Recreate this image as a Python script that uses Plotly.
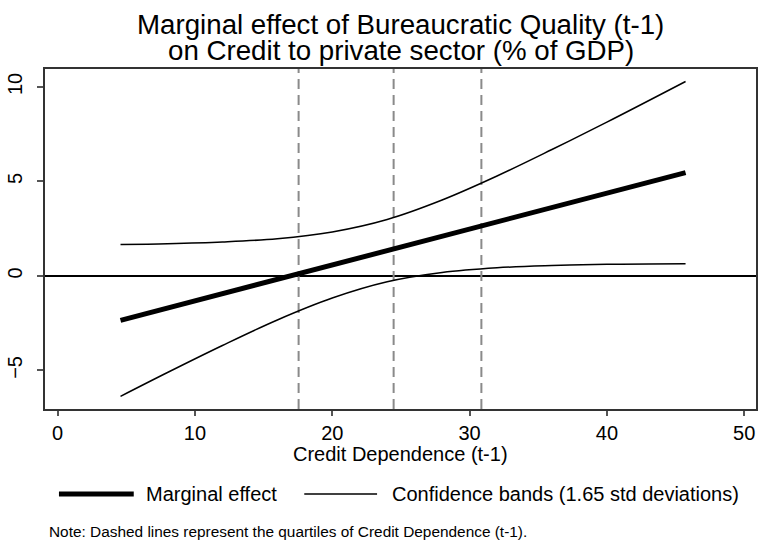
import plotly.graph_objects as go

# Credit Dependence (t-1) grid
credit_dep = [4.58, 8, 12, 16, 20, 24, 28, 32, 36, 40, 45.73]
# Marginal effect of Bureaucratic Quality (t-1)
marginal_effect = [-2.35, -1.70, -0.94, -0.18, 0.58, 1.34, 2.10, 2.86, 3.62, 4.38, 5.47]
# Confidence bands (1.65 std deviations)
upper_band = [1.67, 1.71, 1.80, 1.97, 2.33, 2.99, 4.02, 5.29, 6.69, 8.14, 10.29]
lower_band = [-6.37, -5.11, -3.68, -2.33, -1.17, -0.31, 0.18, 0.43, 0.55, 0.62, 0.65]
# Quartiles of Credit Dependence (t-1)
quartiles = [17.55, 24.47, 30.86]

x_ticks = [0, 10, 20, 30, 40, 50]
y_ticks = [-5, 0, 5, 10]

FONT = "Liberation Sans, Arial, Helvetica, sans-serif"

fig = go.Figure()

y_lo, y_hi = -7.04, 10.95
for q in quartiles:
    fig.add_trace(go.Scatter(
        x=[q, q], y=[y_lo, y_hi], mode="lines",
        line=dict(color="#8a8a8a", width=2, dash="10px,6px"),
        showlegend=False, hoverinfo="skip"))

fig.add_trace(go.Scatter(
    x=credit_dep, y=upper_band, mode="lines", line_shape="spline",
    line=dict(color="black", width=1.5), showlegend=False))
fig.add_trace(go.Scatter(
    x=credit_dep, y=lower_band, mode="lines", line_shape="spline",
    line=dict(color="black", width=1.5), showlegend=False))
fig.add_trace(go.Scatter(
    x=credit_dep, y=marginal_effect, mode="lines",
    line=dict(color="black", width=5), showlegend=False))

W, H = 760, 544
L, R, T, B = 45, 2, 69, 135
pw, ph = W - L - R, H - T - B


def px(x):
    return (x - L) / pw


def py(y):
    return (H - B - y) / ph


def label(text, x, y, size, xanchor="left"):
    fig.add_annotation(text=text, xref="paper", yref="paper", x=x, y=y,
                       xanchor=xanchor, yanchor="middle", showarrow=False,
                       font=dict(size=size, color="black", family=FONT))


# two-line title centred over the plotting area
label("Marginal effect of Bureaucratic Quality (t-1)", 0.5, py(24), 27.7, "center")
label("on Credit to private sector (% of GDP)", 0.5, py(51), 27.7, "center")

# x-axis title
label("Credit Dependence (t-1)", 0.5, py(454), 20, "center")

# hand-placed legend beneath the axis title
leg_y = 494
fig.add_shape(type="line", xref="paper", yref="paper",
              x0=px(59), x1=px(134), y0=py(leg_y), y1=py(leg_y),
              line=dict(color="black", width=5))
fig.add_shape(type="line", xref="paper", yref="paper",
              x0=px(305), x1=px(378), y0=py(leg_y), y1=py(leg_y),
              line=dict(color="black", width=1.5))
label("Marginal effect", px(144), py(leg_y), 20)
label("Confidence bands (1.65 std deviations)", px(391), py(leg_y), 20)
label("Note: Dashed lines represent the quartiles of Credit Dependence (t-1).",
      px(47), py(531), 15.4)

fig.update_layout(
    width=W, height=H,
    margin=dict(l=L, r=R, t=T, b=B, pad=0),
    paper_bgcolor="white", plot_bgcolor="white",
    font=dict(family=FONT, color="black"),
    showlegend=False,
)
fig.update_xaxes(
    range=[-0.92, 50.86], tickvals=x_ticks, ticks="outside", ticklen=5,
    tickcolor="#555", tickwidth=1.5, showgrid=False, zeroline=False,
    showline=True, mirror=True, linecolor="#333", linewidth=1.5,
    tickfont=dict(size=20, family=FONT, color="black"))
fig.update_yaxes(
    range=[y_lo, y_hi], tickvals=y_ticks, ticks="outside", ticklen=6,
    tickcolor="#555", tickwidth=1.5, showgrid=False,
    zeroline=True, zerolinecolor="black", zerolinewidth=1.5,
    showline=True, mirror=True, linecolor="#333", linewidth=1.5,
    ticklabelstandoff=7,
    tickangle=-90, tickfont=dict(size=20, family=FONT, color="black"))

fig.write_html("out.html")
